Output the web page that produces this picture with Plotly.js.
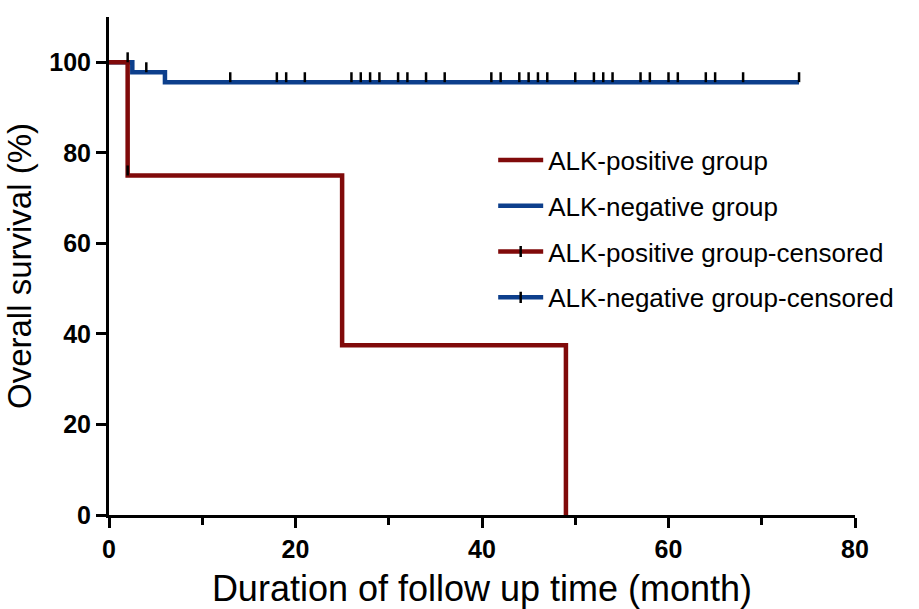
<!DOCTYPE html>
<html>
<head>
<meta charset="utf-8">
<script src="https://cdn.plot.ly/plotly-3.0.1.min.js"></script>
<style>html,body{margin:0;padding:0;background:#fff;}#chart{width:919px;height:609px;}</style>
</head>
<body>
<div id="chart"></div>
<script>
// Step-curve data (month, overall survival %)
const posTimes = [0, 2, 25, 49];
const posSurv = [100, 75, 37.5, 0];
const negTimes = [0, 2.5, 6, 74];
const negSurv = [100, 97.8, 95.6, 95.6];

// Censored observations (month, survival level at censoring)
const posCensTimes = [2];
const posCensLevels = [75];
const negCensTimes = [2, 4, 13, 18, 19, 21, 26, 27, 28, 29, 31, 32, 34, 36, 41, 42, 44, 45, 46, 47, 50, 52, 53, 54, 57, 58, 60, 61, 64, 65, 68, 74];
const negCensLevels = [100, 97.8, 95.6, 95.6, 95.6, 95.6, 95.6, 95.6, 95.6, 95.6, 95.6, 95.6, 95.6, 95.6, 95.6, 95.6, 95.6, 95.6, 95.6, 95.6, 95.6, 95.6, 95.6, 95.6, 95.6, 95.6, 95.6, 95.6, 95.6, 95.6, 95.6, 95.6];

const seriesNames = ["ALK-positive group", "ALK-negative group", "ALK-positive group-censored", "ALK-negative group-censored"];
const xTickVals = [0, 20, 40, 60, 80];
const yTickVals = [0, 20, 40, 60, 80, 100];

const RED = "#800a0a";
const BLUE = "#0d3f8c";
const TICK = 2.2; // censor mark height in % units

function censorSegments(ts, ls) {
  const x = [], y = [];
  ts.forEach((t, i) => { x.push(t, t, null); y.push(ls[i], ls[i] + TICK, null); });
  return {x, y};
}
const negSeg = censorSegments(negCensTimes, negCensLevels);
const posSeg = censorSegments(posCensTimes, posCensLevels);

const FONT = "Liberation Sans, Arial, Helvetica, sans-serif";

const traces = [
  {x: negTimes, y: negSurv, mode: "lines", line: {shape: "hv", color: BLUE, width: 4.5}, name: seriesNames[1], legendrank: 2, legendgroup: "b", cliponaxis: false},
  {x: posTimes, y: posSurv, mode: "lines", line: {shape: "hv", color: RED, width: 4.5}, name: seriesNames[0], legendrank: 1, legendgroup: "a"},
  {x: negSeg.x, y: negSeg.y, mode: "lines", line: {color: "#000", width: 2.5}, showlegend: false, hoverinfo: "skip", cliponaxis: false},
  {x: posSeg.x, y: posSeg.y, mode: "lines", line: {color: "#000", width: 2.5}, showlegend: false, hoverinfo: "skip"},
  {x: [null], y: [null], mode: "lines+markers", line: {color: RED, width: 4.5}, marker: {symbol: "line-ns", size: 8, line: {color: "#000", width: 2.5}}, name: seriesNames[2], legendrank: 3, legendgroup: "c"},
  {x: [null], y: [null], mode: "lines+markers", line: {color: BLUE, width: 4.5}, marker: {symbol: "line-ns", size: 8, line: {color: "#000", width: 2.5}}, name: seriesNames[3], legendrank: 4, legendgroup: "d"}
];

const layout = {
  width: 919, height: 609,
  margin: {l: 109, r: 64, t: 17, b: 94},
  paper_bgcolor: "#fff", plot_bgcolor: "#fff",
  font: {family: FONT, color: "#000"},
  showlegend: true,
  legend: {x: 0.515, y: 0.76, xanchor: "left", yanchor: "top", font: {size: 26, family: FONT, color: "#000"}, bgcolor: "rgba(0,0,0,0)", tracegroupgap: 9, itemwidth: 45, borderwidth: 0},
  xaxis: {
    range: [0, 80], tickvals: xTickVals, ticks: "outside", ticklen: 10, tickwidth: 3, tickcolor: "#000",
    showline: true, linewidth: 3, linecolor: "#000", showgrid: false, zeroline: false,
    tickfont: {size: 25, family: FONT, weight: 700},
    minor: {dtick: 10, tick0: 0, ticks: "outside", ticklen: 7, tickwidth: 3, tickcolor: "#000", showgrid: false},
    title: {text: "Duration of follow up time (month)", font: {size: 36, family: FONT}, standoff: 14}
  },
  yaxis: {
    range: [0, 110], tickvals: yTickVals, ticks: "outside", ticklen: 10, tickwidth: 3, tickcolor: "#000",
    showline: true, linewidth: 3, linecolor: "#000", showgrid: false, zeroline: false,
    tickfont: {size: 25, family: FONT, weight: 700},
    title: {text: "Overall survival (%)", font: {size: 33, family: FONT}, standoff: 8}
  }
};

Plotly.newPlot("chart", traces, layout, {displayModeBar: false, staticPlot: true});
</script>
</body>
</html>
